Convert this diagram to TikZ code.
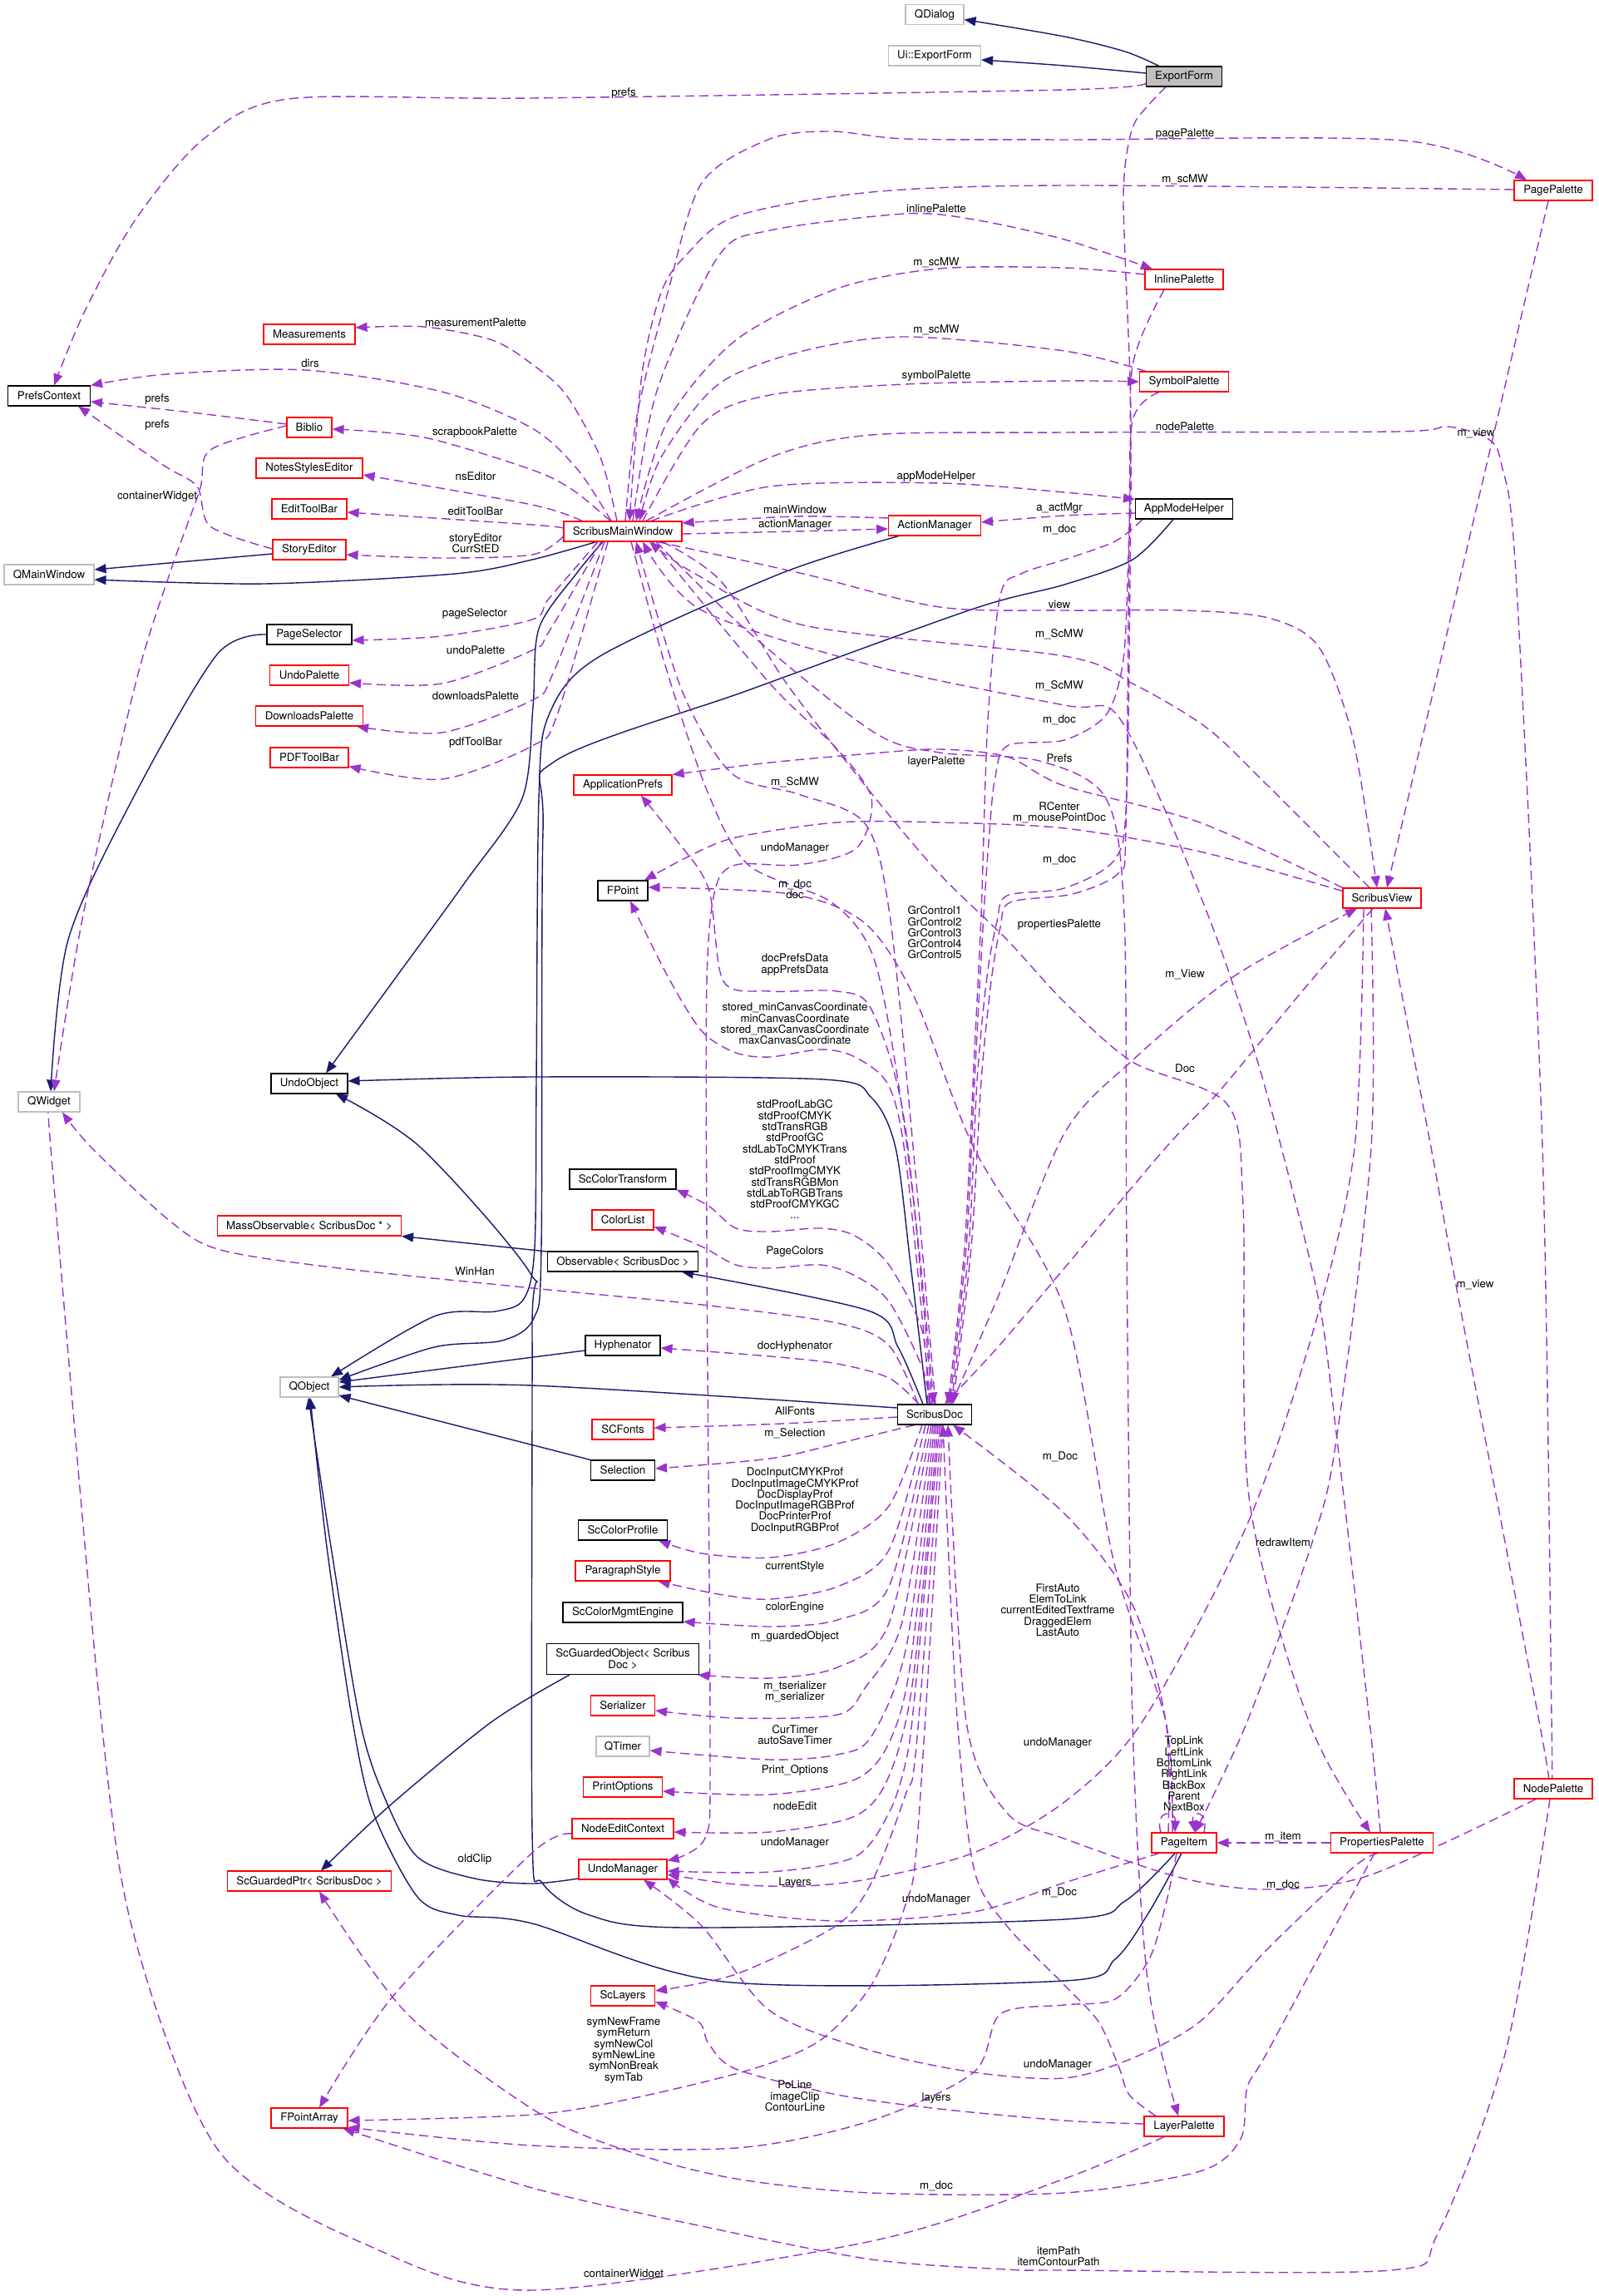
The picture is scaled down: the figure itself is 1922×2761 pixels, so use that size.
\documentclass[tikz,border=0pt]{standalone}
\usepackage{fontspec}
\setmainfont{TeX Gyre Heros}
\usetikzlibrary{arrows.meta}
\pgfdeclarelayer{bg}
\pgfdeclarelayer{edges}
\pgfsetlayers{bg,edges,main}
\definecolor{depc}{HTML}{9A32CD}
\definecolor{navyc}{HTML}{191970}
\definecolor{boxgray}{HTML}{BFBFBF}
\newcommand\dfont{\fontsize{13.3}{13.3}\selectfont}
\begin{document}
\begin{tikzpicture}[x=1pt,y=-1pt,
  box/.style={draw, fill=white, line width=1.1pt, minimum height=24pt, inner sep=0pt, font=\dfont, text=black},
  redb/.style={box, draw=red},
  grayb/.style={box, draw=boxgray},
  blackb/.style={box, draw=black},
  lbl/.style={font=\dfont, align=center, inner sep=0pt, text=black},
  dep/.style={draw=depc, line width=1.4pt, dash pattern=on 11pt off 6pt, -{Triangle[length=14pt,width=11pt]}},
  inh/.style={draw=navyc, line width=1.4pt, -{Triangle[length=14pt,width=11pt]}}]
\begin{pgfonlayer}{bg}
\fill[white] (0,0) rectangle (1922,2761);
\end{pgfonlayer}
\useasboundingbox (0,0) rectangle (1922,2761);
% ---------------- nodes
\node[grayb, minimum width=70pt] (qdialog) at (1124,17.5) {QDialog};
\node[grayb, minimum width=111pt] (uiexf) at (1124,67) {Ui::ExportForm};
\node[blackb, fill=boxgray, minimum width=91pt] (exf) at (1424,92) {ExportForm};
\node[blackb, minimum width=99pt] (prefs) at (59,476) {PrefsContext};
\node[redb, minimum width=110pt] (meas) at (372,402) {Measurements};
\node[redb, minimum width=54pt] (biblio) at (372,514) {Biblio};
\node[redb, minimum width=128pt] (notes) at (372,563) {NotesStylesEditor};
\node[redb, minimum width=90pt] (edittb) at (372,612) {EditToolBar};
\node[redb, minimum width=88pt] (story) at (372,661) {StoryEditor};
\node[grayb, minimum width=108pt] (qmw) at (59,691) {QMainWindow};
\node[redb, minimum width=142pt] (smw) at (749,639) {ScribusMainWindow};
\node[redb, minimum width=111pt] (actmgr) at (1124,632) {ActionManager};
\node[redb, minimum width=94pt] (pagepal) at (1868,229) {PagePalette};
\node[redb, minimum width=94pt] (inlinepal) at (1424,336) {InlinePalette};
\node[redb, minimum width=107pt] (sympal) at (1424,459) {SymbolPalette};
\node[blackb, minimum width=117pt] (appmode) at (1424,612) {AppModeHelper};
\node[blackb, minimum width=102pt] (pagesel) at (372,763) {PageSelector};
\node[redb, minimum width=95pt] (undopal) at (372,812) {UndoPalette};
\node[redb, minimum width=129pt] (dlpal) at (372,861) {DownloadsPalette};
\node[redb, minimum width=94pt] (pdftb) at (372,911) {PDFToolBar};
\node[blackb, minimum width=92pt] (undoobj) at (372,1303) {UndoObject};
\node[grayb, minimum width=74pt] (qwidget) at (59,1325) {QWidget};
\node[redb, minimum width=118pt] (appprefs) at (749,944) {ApplicationPrefs};
\node[blackb, minimum width=60pt] (fpoint) at (749,1071) {FPoint};
\node[redb, minimum width=94pt] (sview) at (1662,1080) {ScribusView};
\node[redb, minimum width=221pt] (massobs) at (372,1474) {MassObservable< ScribusDoc * >};
\node[grayb, minimum width=70pt] (qobject) at (372,1668) {QObject};
\node[blackb, minimum width=128pt] (sccolortrans) at (749,1418) {ScColorTransform};
\node[redb, minimum width=74pt] (colorlist) at (749,1467) {ColorList};
\node[blackb, minimum width=181pt] (observable) at (749,1517) {Observable< ScribusDoc >};
\node[blackb, minimum width=90pt] (hyph) at (749,1618) {Hyphenator};
\node[blackb, minimum width=89pt] (sdoc) at (1124,1701) {ScribusDoc};
\node[redb, minimum width=74pt] (scfonts) at (749,1719) {SCFonts};
\node[blackb, minimum width=77pt] (selection) at (749,1768) {Selection};
\node[blackb, minimum width=107pt] (sccolorprof) at (749,1840) {ScColorProfile};
\node[redb, minimum width=114pt] (parstyle) at (749,1889) {ParagraphStyle};
\node[blackb, minimum width=144pt] (sccme) at (749,1939) {ScColorMgmtEngine};
\node[blackb, minimum width=183pt, minimum height=37pt, align=center] (scgobj) at (749,1995) {ScGuardedObject< Scribus\\Doc >};
\node[redb, minimum width=77pt] (serializer) at (749,2051) {Serializer};
\node[grayb, minimum width=64pt] (qtimer) at (749,2100) {QTimer};
\node[redb, minimum width=95pt] (printopt) at (749,2149) {PrintOptions};
\node[redb, minimum width=122pt] (nodeedit) at (749,2199) {NodeEditContext};
\node[redb, minimum width=106pt] (undomgr) at (749,2248) {UndoManager};
\node[redb, minimum width=77pt] (sclayers) at (749,2400) {ScLayers};
\node[redb, minimum width=197pt] (scgptr) at (372,2262) {ScGuardedPtr< ScribusDoc >};
\node[redb, minimum width=92pt] (fpa) at (372,2547) {FPointArray};
\node[redb, minimum width=94pt] (nodepal) at (1868,2151) {NodePalette};
\node[redb, minimum width=78pt] (pageitem) at (1424,2216) {PageItem};
\node[redb, minimum width=123pt] (proppal) at (1662,2216) {PropertiesPalette};
\node[redb, minimum width=96pt] (layerpal) at (1424,2557) {LayerPalette};
\begin{pgfonlayer}{edges}
% ---------------- inheritance
\draw[inh] plot[smooth] coordinates {([xshift=-30pt]exf.north) (1353,62) (1280,44) ([yshift=-6pt]qdialog.east)};
\draw[inh] plot[smooth] coordinates {([yshift=4pt]exf.west) (1280,79) ([yshift=-5pt]uiexf.east)};
\draw[inh] ([yshift=-5pt]story.west) -- ([yshift=6pt]qmw.east);
\draw[inh] plot[smooth] coordinates {([xshift=-32pt]smw.south) (640,673) (547,690) (318,702) ([yshift=-6pt]qmw.east)};
\draw[inh] plot[smooth] coordinates {(pagesel.west) (261,787) (163,954) (82,1130) ([xshift=2pt]qwidget.north)};
\draw[inh] plot[smooth] coordinates {([xshift=-24pt]smw.south) (693,690) (648,756) (641,850) (628,960) (560,1060) (480,1170) ([xshift=20pt]undoobj.north)};
\draw[inh] plot[smooth] coordinates {([xshift=-43pt]actmgr.south) (938,690) (720,790) (660,860) (648,960) (645,1300) (643,1500) (630,1562) (596,1577) (522,1583) ([xshift=26pt]qobject.north)};
\draw[inh] plot[smooth] coordinates {([xshift=-13pt]appmode.south) (1362,673) (1280,703) (1171,732) (900,830) (668,915) (653,1000) (651,1500) (642,1585) (604,1612) (522,1620) ([yshift=-4pt]qobject.north east)};
\draw[inh] plot[smooth] coordinates {([xshift=-9pt]sdoc.north) (1095,1520) (1077,1380) (1048,1320) (990,1298) (640,1295) ([yshift=3pt]undoobj.east)};
\draw[inh] plot[smooth] coordinates {([xshift=-14pt]sdoc.north) (1080,1620) (1044,1576) ([xshift=71pt]observable.south)};
\draw[inh] ([yshift=12pt]observable.west) -- (massobs.south east);
\draw[inh] ([yshift=-6pt]hyph.west) -- ([yshift=6pt]qobject.east);
\draw[inh] plot[smooth] coordinates {([yshift=8pt]sdoc.west) (640,1666) (qobject.east)};
\draw[inh] (selection.north west) -- ([yshift=-10pt]qobject.east);
\draw[inh] plot[smooth] coordinates {([xshift=-64pt]scgobj.south) (592,2070) (469,2171) ([xshift=14pt]scgptr.north)};
\draw[inh] plot[smooth] coordinates {([yshift=-11pt]undomgr.west) (640,2265) (571,2259) (502,2233) (461,2158) (433,2070) (398,1860) ([xshift=-1pt]qobject.south)};
\draw[inh] plot[smooth] coordinates {([xshift=-3pt]pageitem.south) (1382,2299) (1341,2356) (1280,2382) (870,2383) (640,2313) (551,2303) (502,2281) (449,2180) (424,2070) (393,1860) ([xshift=1pt]qobject.south)};
\draw[inh] plot[smooth] coordinates {([xshift=-11pt]pageitem.south) (1353,2286) (1280,2308) (824,2318) (709,2303) (652,2264) (640,2202) (640,1600) (637,1530) (506,1380) ([xshift=32pt]undoobj.south)};
% ---------------- usage (top area)
\draw[dep] plot[smooth] coordinates {([yshift=-8pt]exf.west) (1280,108) (640,118) (347,119) (245,167) (163,264) (102,374) ([xshift=6pt]prefs.north)};
\draw[dep] plot[smooth] coordinates {([xshift=3pt]smw.north) (766,500) (803,352) (844,220) (926,167) (1000,158) (1089,167) (1280,168) (1688,169) ([xshift=-32pt]pagepal.north)};
\draw[dep] plot[smooth] coordinates {([yshift=1pt]pagepal.west) (1280,223) (1048,231) (885,260) (824,308) (795,352) (772,450) ([xshift=8pt]smw.north)};
\draw[dep] plot[smooth] coordinates {([xshift=12pt]smw.north) (790,470) (864,308) (926,277) (1089,257) (1171,264) (1280,288) ([xshift=-38pt]inlinepal.north)};
\draw[dep] plot[smooth] coordinates {([yshift=6pt]inlinepal.west) (1280,322) (1130,323) (1007,347) (885,409) (803,506) ([xshift=16pt]smw.north)};
\draw[dep] plot[smooth] coordinates {([xshift=-46pt]sympal.north) (1280,422) (1089,405) (966,422) (864,462) (795,550) ([xshift=20pt]smw.north)};
\draw[dep] plot[smooth] coordinates {([xshift=24pt]smw.north) (844,510) (926,475) (1089,462) (1280,458) (sympal.west)};
\draw[dep] plot[smooth] coordinates {([xshift=28pt]smw.north) (926,550) (1048,523) (1280,520) (1680,519) (1741,513) (1790,528) (1806,560) (1823,690) (1855,1380) (1866,2070) ([xshift=-2pt]nodepal.north)};
\draw[dep] plot[smooth] coordinates {([xshift=-6pt]pagepal.south) (1757,690) ([xshift=6pt]sview.north)};
\draw[dep] plot[smooth] coordinates {([xshift=-6pt]nodepal.north) (1851,2070) (1753,1556) (1721,1380) ([xshift=4pt]sview.south)};
\draw[dep] plot[smooth] coordinates {([xshift=-7pt]smw.north) (722,550) (681,475) (640,438) (592,409) (510,393) ([yshift=8pt]meas.east)};
\draw[dep] plot[smooth] coordinates {([xshift=-14pt]smw.north) (695,565) (640,515) (531,471) (367,445) (200,450) (prefs.north east)};
\draw[dep] plot[smooth] coordinates {([yshift=4pt]biblio.west) (230,496) ([yshift=-7pt]prefs.east)};
\draw[dep] plot[smooth] coordinates {([yshift=1pt]story.west) (253,633) (237,585) (196,559) ([xshift=35pt]prefs.south)};
\draw[dep] plot[smooth] coordinates {([yshift=2pt]biblio.west) (253,541) (240,590) (204,690) (163,822) (100,1100) ([xshift=6pt]qwidget.north)};
\draw[dep] plot[smooth] coordinates {([xshift=-15pt]smw.north) (690,590) (640,565) (510,526) ([yshift=-2pt]biblio.east)};
\draw[dep] plot[smooth] coordinates {([xshift=-49pt]smw.north) (640,607) ([yshift=-8pt]notes.east)};
\draw[dep] plot[smooth] coordinates {([yshift=4pt]smw.west) (640,631) ([yshift=-4pt]edittb.east)};
\draw[dep] plot[smooth] coordinates {([yshift=-6pt]smw.west) (640,667) (531,671) ([yshift=-6pt]story.east)};
\draw[dep] plot[smooth] coordinates {([xshift=-30pt]smw.south) (660,720) (640,745) (531,765) ([yshift=-7pt]pagesel.east)};
\draw[dep] plot[smooth] coordinates {([xshift=-26pt]smw.south) (660,760) (640,782) (531,822) ([yshift=-9pt]undopal.east)};
\draw[dep] plot[smooth] coordinates {([xshift=-22pt]smw.south) (665,810) (640,842) (531,881) ([xshift=-8pt]dlpal.south east)};
\draw[dep] plot[smooth] coordinates {([xshift=-18pt]smw.south) (670,860) (640,897) (531,937) ([yshift=2pt]pdftb.south east)};
\draw[dep] plot[smooth] coordinates {([yshift=9pt]actmgr.west) (956,621) ([yshift=10pt]smw.east)};
\draw[dep] plot[smooth] coordinates {([yshift=-3pt]smw.east) (956,639) ([yshift=-4pt]actmgr.west)};
\draw[dep] plot[smooth] coordinates {([xshift=34pt]smw.north) (926,585) (1130,581) (1280,592) ([yshift=-1pt]appmode.north west)};
\draw[dep] plot[smooth] coordinates {([yshift=-5pt]appmode.west) (1280,620) ([yshift=4pt]actmgr.east)};
% ---------------- ScribusDoc pointers from top
\draw[dep] plot[smooth] coordinates {([xshift=-50pt]appmode.south) (1341,651) (1280,673) (1228,690) (1203,716) (1188,866) (1180,1100) (1172,1262) (1160,1500) ([xshift=16pt]sdoc.north)};
\draw[dep] plot[smooth] coordinates {([xshift=-22pt]exf.south) (1366,145) (1355,185) (1351,233) (1353,308) (1360,500) (1356,700) (1350,800) (1330,860) (1280,890) (1211,897) (1196,940) (1190,1000) (1183,1100) (1172,1300) (1162,1500) ([xshift=18pt]sdoc.north)};
\draw[dep] plot[smooth] coordinates {([xshift=-24pt]inlinepal.south) (1362,440) (1360,600) (1355,954) (1341,1033) (1280,1068) (1211,1077) (1199,1108) (1187,1174) (1175,1300) (1165,1500) ([xshift=20pt]sdoc.north)};
\draw[dep] plot[smooth] coordinates {([xshift=-30pt]sympal.south) (1362,506) (1358,650) (1354,1000) (1345,1050) (1290,1075) (1215,1085) (1203,1115) (1192,1180) (1180,1300) (1168,1500) ([xshift=22pt]sdoc.north)};
\draw[dep] plot[smooth] coordinates {([xshift=40pt]smw.south) (900,760) (1050,880) (1130,905) (1250,915) (1330,960) (1352,1100) (1355,1500) (1362,2070) (1380,2380) ([xshift=-7pt]layerpal.north)};
\draw[dep] plot[smooth] coordinates {([xshift=-11pt]sview.south) (1566,1192) (1464,1315) (1402,1380) (1280,1525) (1200,1620) ([xshift=12pt]sdoc.north)};
\draw[dep] plot[smooth] coordinates {([xshift=20pt]sdoc.north) (1200,1560) (1280,1363) (1362,1275) (1484,1174) ([xshift=-30pt]sview.south)};
\draw[dep] plot[smooth] coordinates {([xshift=42pt]smw.south) (966,690) (1130,730) (1280,734) (1423,734) (1525,743) (1586,778) (1627,888) ([xshift=-6pt]sview.north)};
\draw[dep] plot[smooth] coordinates {([xshift=-15pt]sview.north) (1525,945) (1451,875) (1362,822) (1280,789) (967,752) (836,690) ([xshift=32pt]smw.south)};
\draw[dep] plot[smooth] coordinates {([xshift=-2pt]proppal.north) (1647,2070) (1607,1723) (1586,1564) (1541,1380) (1508,1262) (1464,1130) (1402,976) (1341,857) (1280,848) (1048,800) (844,734) ([xshift=24pt]smw.south)};
\draw[dep] plot[smooth] coordinates {([xshift=48pt]smw.south) (868,700) (946,822) (1048,954) (1130,1051) (1211,1130) (1280,1205) (1362,1277) (1476,1328) (1495,1450) (1502,1800) (1574,2070) ([xshift=-14pt]proppal.north)};
\draw[dep] plot[smooth] coordinates {(sview.north west) (1443,989) (1280,945) (1211,910) (1130,901) (1048,906) (926,917) (appprefs.north east)};
\draw[dep] plot[smooth] coordinates {([yshift=-4pt]sview.north west) (1443,1024) (1280,996) (1130,989) (1007,989) (885,1007) (828,1030) ([xshift=26pt]fpoint.north)};
\draw[dep] plot[smooth] coordinates {([xshift=-14pt]pageitem.north) (1402,2070) (1340,1880) (1280,1574) (1171,1380) (1100,1200) (1040,1110) (950,1075) ([yshift=4pt]fpoint.east)};
\draw[dep] plot[smooth] coordinates {([xshift=-5pt]sdoc.north) (1090,1400) (1069,1306) (1028,1271) (987,1262) (926,1271) (885,1266) (844,1240) (803,1174) ([xshift=9pt]fpoint.south)};
\draw[dep] plot[smooth] coordinates {([xshift=-3pt]sdoc.north) (1088,1350) (1048,1214) (1007,1192) (926,1192) (870,1180) (852,1068) (811,1007) ([xshift=22pt]appprefs.south)};
\draw[dep] plot[smooth] coordinates {([xshift=36pt]smw.south) (926,822) (1007,901) (1048,960) (1030,1020) (960,1040) (885,1040) (860,1070) (850,1180) (850,1500) (854,2100) (848,2210) ([yshift=-2pt]undomgr.north east)};
\draw[dep] plot[smooth] coordinates {([xshift=10pt]smw.south) (800,800) (850,950) (900,1040) (1000,1085) (1050,1150) (1080,1300) (1105,1500) ([xshift=-1pt]sdoc.north)};
\draw[dep] plot[smooth] coordinates {([xshift=1pt]sdoc.north) (1100,1400) (1070,1100) (1040,990) (960,955) (880,930) (820,830) ([xshift=16pt]smw.south)};
% ---------------- ScribusDoc members (left column)
\draw[dep] plot[smooth] coordinates {([xshift=-8pt]sdoc.north) (1109,1600) (1069,1521) (1028,1486) (987,1477) (926,1481) (885,1477) (852,1450) (sccolortrans.south east)};
\draw[dep] plot[smooth] coordinates {([xshift=-6pt]sdoc.north) (1109,1644) (1069,1565) (1028,1534) (987,1521) (926,1525) (885,1521) (844,1499) ([yshift=-8pt]colorlist.east)};
\draw[dep] plot[smooth] coordinates {([xshift=-19pt]sdoc.north) (1069,1657) (1007,1640) (926,1631) ([yshift=-3pt]hyph.east)};
\draw[dep] plot[smooth] coordinates {([yshift=-3pt]sdoc.west) (940,1712) ([yshift=2pt]scfonts.east)};
\draw[dep] plot[smooth] coordinates {([xshift=-24pt]sdoc.south) (1007,1736) (926,1754) ([yshift=2pt]selection.east)};
\draw[dep] plot[smooth] coordinates {([xshift=-15pt]sdoc.south) (1069,1811) (1007,1855) (926,1873) (844,1868) ([xshift=-11pt]sccolorprof.south east)};
\draw[dep] plot[smooth] coordinates {([xshift=-11pt]sdoc.south) (1069,1864) (1007,1908) (926,1923) (864,1917) ([xshift=-15pt]parstyle.south east)};
\draw[dep] plot[smooth] coordinates {([xshift=-7pt]sdoc.south) (1069,1908) (1007,1948) (926,1956) ([yshift=-11pt]sccme.east)};
\draw[dep] plot[smooth] coordinates {([xshift=-4pt]sdoc.south) (1069,1952) (1007,2005) (926,2018) ([xshift=-2pt]scgobj.south east)};
\draw[dep] plot[smooth] coordinates {([xshift=-2pt]sdoc.south) (1085,1950) (1040,2030) (1007,2062) (885,2066) ([yshift=-6pt]serializer.east)};
\draw[dep] plot[smooth] coordinates {([xshift=0pt]sdoc.south) (1090,1980) (1048,2088) (1007,2110) (926,2116) ([yshift=-5pt]qtimer.east)};
\draw[dep] plot[smooth] coordinates {([xshift=2pt]sdoc.south) (1095,2000) (1069,2096) (1028,2140) (926,2158) ([yshift=-5pt]printopt.east)};
\draw[dep] plot[smooth] coordinates {([xshift=4pt]sdoc.south) (1098,2020) (1069,2136) (1028,2184) (926,2203) ([yshift=-4pt]nodeedit.east)};
\draw[dep] plot[smooth] coordinates {([xshift=6pt]sdoc.south) (1100,2040) (1089,2120) (1069,2180) (1028,2233) (926,2251) ([yshift=-2pt]undomgr.east)};
\draw[dep] plot[smooth] coordinates {([xshift=8pt]sdoc.south) (1102,2100) (1089,2158) (1048,2264) (1005,2316) (885,2374) ([yshift=6pt]sclayers.east)};
\draw[dep] plot[smooth] coordinates {([xshift=10pt]sdoc.south) (1104,2200) (1089,2290) (1048,2387) (987,2453) (905,2488) (762,2523) (640,2543) ([yshift=-3pt]fpa.east)};
\draw[dep] plot[smooth] coordinates {([xshift=-20pt]sdoc.north) (1069,1618) (1007,1591) (844,1569) (640,1549) (408,1525) (265,1503) (204,1468) (110,1380) ([xshift=16pt]qwidget.south)};
% ---------------- bottom area
\draw[dep] plot[smooth] coordinates {([xshift=-9pt]pageitem.south) (1402,2290) (1382,2356) (1341,2404) (1280,2411) (1203,2422) (1171,2492) (1048,2550) (885,2583) (640,2580) ([yshift=-11pt]fpa.east)};
\draw[dep] plot[smooth] coordinates {([xshift=-4pt]nodepal.south) (1811,2466) (1729,2686) (1672,2730) (1280,2730) (1211,2729) (1048,2717) (844,2677) (640,2631) ([xshift=-6pt]fpa.south east)};
\draw[dep] plot[smooth] coordinates {([yshift=-6pt]nodeedit.west) (640,2228) (473,2400) ([xshift=12pt]fpa.north)};
\draw[dep] plot[smooth] coordinates {([xshift=-9pt]proppal.south) (1525,2466) (1500,2510) (1492,2572) (1443,2611) (1280,2637) (1048,2637) (885,2620) (762,2589) (648,2541) (490,2422) ([xshift=12pt]scgptr.south)};
\draw[dep] plot[smooth] coordinates {([xshift=-5pt]proppal.south) (1627,2246) (1525,2343) (1443,2431) (1362,2475) (1280,2499) (1171,2492) (1048,2466) (926,2418) (844,2316) ([xshift=25pt]undomgr.south)};
\draw[dep] plot[smooth] coordinates {([xshift=-24pt]layerpal.south) (1280,2620) (1048,2695) (640,2754) (449,2703) (265,2589) (163,2334) (122,2070) (61,1380) ([xshift=2pt]qwidget.south)};
\draw[dep] plot[smooth] coordinates {([yshift=3pt]layerpal.west) (1280,2550) (1130,2536) (1007,2519) (885,2488) (852,2457) (840,2431) ([yshift=-7pt]sclayers.east)};
\draw[dep] plot[smooth] coordinates {([xshift=-34pt]layerpal.north) (1358,2519) (1345,2484) (1321,2431) (1280,2387) (1211,2316) (1171,2246) (1150,2050) ([xshift=10pt]sdoc.south)};
\draw[dep] plot[smooth] coordinates {([xshift=-30pt]pageitem.south) (1280,2264) (1171,2299) (1007,2310) (865,2294) ([yshift=-10pt]undomgr.east)};
\draw[dep] plot[smooth] coordinates {([xshift=-22pt]sview.south) (1629,1380) (1582,1591) (1500,1833) (1374,2070) (1280,2167) (1171,2228) (1048,2259) (967,2268) (885,2266) ([yshift=-6pt]undomgr.east)};
\draw[dep] plot[smooth] coordinates {([xshift=-13pt]sview.south) (1649,1380) (1607,1732) (1578,1855) (1500,2070) ([xshift=13pt]pageitem.north)};
\draw[dep] plot[smooth] coordinates {([xshift=-19pt]pageitem.north) (1402,2070) (1362,1930) (1280,1820) ([xshift=22pt]sdoc.south)};
\draw[dep] plot[smooth] coordinates {([xshift=-21pt]nodepal.south) (1647,2255) (1525,2272) (1420,2258) (1280,2211) (1211,2180) (1162,2070) ([xshift=16pt]sdoc.south)};
\draw[dep] (proppal.west) -- (pageitem.east);
\draw[dep] ([xshift=-28pt]pageitem.north) .. controls (1388,2176) and (1414,2176) .. ([xshift=-11pt]pageitem.north);
\draw[dep] ([xshift=24pt]pageitem.north) .. controls (1454,2176) and (1432,2176) .. ([xshift=13pt]pageitem.north);
\end{pgfonlayer}
% ---------------- labels
\node[lbl] (l01) at (750,112) {prefs};
\node[lbl] (l02) at (1425,161) {pagePalette};
\node[lbl] (l03) at (1425,216) {m\_scMW};
\node[lbl] (l04) at (1126,251) {inlinePalette};
\node[lbl] (l05) at (1126,316) {m\_scMW};
\node[lbl] (l06) at (1126,397) {m\_scMW};
\node[lbl] (l07) at (1126,452) {symbolPalette};
\node[lbl] (l08) at (1425,513) {nodePalette};
\node[lbl] (l09) at (1775,521) {m\_view};
\node[lbl] (l10) at (572,388) {measurementPalette};
\node[lbl] (l11) at (373,437) {dirs};
\node[lbl] (l12) at (189,480) {prefs};
\node[lbl] (l13) at (189,511) {prefs};
\node[lbl] (l14) at (571,520) {scrapbookPalette};
\node[lbl] (l15) at (572,573) {nsEditor};
\node[lbl] (l16) at (572,615) {editToolBar};
\node[lbl] (l17) at (572,653.5) {storyEditor\\CurrStED};
\node[lbl] (l18) at (189,597) {containerWidget};
\node[lbl] (l19) at (571,737.5) {pageSelector};
\node[lbl] (l20) at (572,781.5) {undoPalette};
\node[lbl] (l21) at (572,836.5) {downloadsPalette};
\node[lbl] (l22) at (572,893) {pdfToolBar};
\node[lbl] (l23) at (956,613) {mainWindow};
\node[lbl] (l24) at (956,631) {actionManager};
\node[lbl] (l25) at (1126,573) {appModeHelper};
\node[lbl] (l26) at (1274,611) {a\_actMgr};
\node[lbl] (l27) at (1274,637) {m\_doc};
\node[lbl] (l28) at (1274,727) {view};
\node[lbl] (l29) at (1274,763) {m\_ScMW};
\node[lbl] (l30) at (1274,825) {m\_ScMW};
\node[lbl] (l31) at (1274,866) {m\_doc};
\node[lbl] (l32) at (1274,912) {Prefs};
\node[lbl] (l33) at (1126,916) {layerPalette};
\node[lbl] (l34) at (956,941) {m\_ScMW};
\node[lbl] (l35) at (1274,977.5) {RCenter\\m\_mousePointDoc};
\node[lbl] (l36) at (956,1020) {undoManager};
\node[lbl] (l37) at (1274,1034) {m\_doc};
\node[lbl] (l38) at (956,1069.5) {m\_doc\\doc};
\node[lbl] (l39) at (1124,1121.5) {GrControl1\\GrControl2\\GrControl3\\GrControl4\\GrControl5};
\node[lbl] (l40) at (1274,1112) {propertiesPalette};
\node[lbl] (l41) at (956,1160) {docPrefsData\\appPrefsData};
\node[lbl] (l42) at (1425,1172) {m\_View};
\node[lbl] (l43) at (956,1231) {stored\_minCanvasCoordinate\\minCanvasCoordinate\\stored\_maxCanvasCoordinate\\maxCanvasCoordinate};
\node[lbl] (l44) at (1425,1285) {Doc};
\node[lbl] (l45) at (956,1394.5) {stdProofLabGC\\stdProofCMYK\\stdTransRGB\\stdProofGC\\stdLabToCMYKTrans\\stdProof\\stdProofImgCMYK\\stdTransRGBMon\\stdLabToRGBTrans\\stdProofCMYKGC\\...};
\node[lbl] (l46) at (956,1505) {PageColors};
\node[lbl] (l47) at (571,1529) {WinHan};
\node[lbl] (l48) at (1774,1544.5) {m\_view};
\node[lbl] (l49) at (956,1619) {docHyphenator};
\node[lbl] (l50) at (956,1697) {AllFonts};
\node[lbl] (l51) at (956,1724) {m\_Selection};
\node[lbl] (l52) at (1275,1752) {m\_Doc};
\node[lbl] (l53) at (956,1804.5) {DocInputCMYKProf\\DocInputImageCMYKProf\\DocDisplayProf\\DocInputImageRGBProf\\DocPrinterProf\\DocInputRGBProf};
\node[lbl] (l54) at (1543,1855) {redrawItem};
\node[lbl] (l55) at (956,1884) {currentStyle};
\node[lbl] (l56) at (1272,1936) {FirstAuto\\ElemToLink\\currentEditedTextframe\\DraggedElem\\LastAuto};
\node[lbl] (l57) at (956,1933) {colorEngine};
\node[lbl] (l58) at (956,1968) {m\_guardedObject};
\node[lbl] (l59) at (956,2034.5) {m\_tserializer\\m\_serializer};
\node[lbl] (l60) at (956,2086) {CurTimer\\autoSaveTimer};
\node[lbl] (l61) at (1272,2096) {undoManager};
\node[lbl] (l62) at (1424,2133) {TopLink\\LeftLink\\BottomLink\\RightLink\\BackBox\\Parent\\NextBox};
\node[lbl] (l63) at (956,2129) {Print\_Options};
\node[lbl] (l64) at (956,2172) {nodeEdit};
\node[lbl] (l65) at (1543,2209) {m\_item};
\node[lbl] (l66) at (956,2216) {undoManager};
\node[lbl] (l67) at (571,2236) {oldClip};
\node[lbl] (l68) at (956,2264) {Layers};
\node[lbl] (l69) at (1543,2267) {m\_doc};
\node[lbl] (l70) at (1274,2276) {m\_Doc};
\node[lbl] (l71) at (1126,2284) {undoManager};
\node[lbl] (l72) at (750,2465.5) {symNewFrame\\symReturn\\symNewCol\\symNewLine\\symNonBreak\\symTab};
\node[lbl] (l73) at (1272,2483) {undoManager};
\node[lbl] (l74) at (956,2520.5) {PoLine\\imageClip\\ContourLine};
\node[lbl] (l75) at (1126,2523) {layers};
\node[lbl] (l76) at (1126,2629) {m\_doc};
\node[lbl] (l77) at (1273,2713.5) {itemPath\\itemContourPath};
\node[lbl] (l78) at (750,2735) {containerWidget};
\end{tikzpicture}
\end{document}
